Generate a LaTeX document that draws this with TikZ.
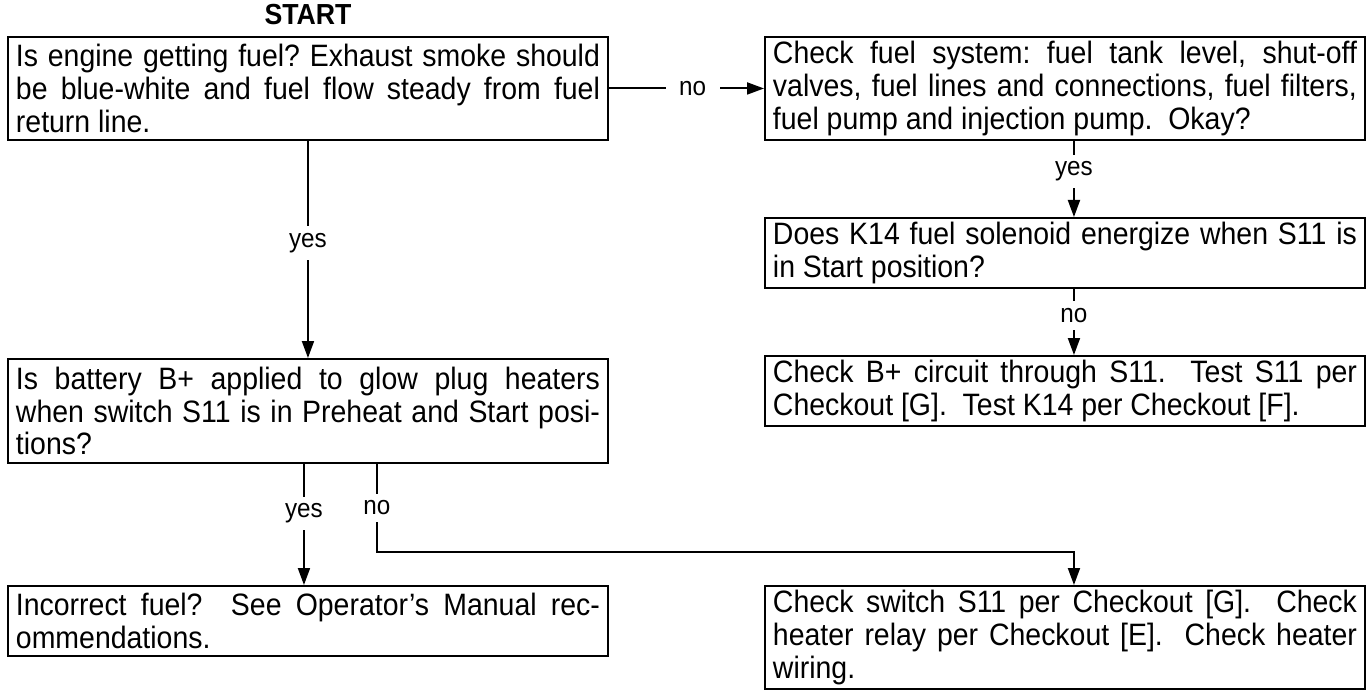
\documentclass[tikz,border=0pt]{standalone}
\usepackage{fontspec}
\setmainfont{Liberation Sans}[FakeStretch=0.92]
\usetikzlibrary{arrows.meta,positioning}
\frenchspacing

\begin{document}
\begin{tikzpicture}[
  box/.style={draw, line width=1.1pt, anchor=north west, text width=11.68cm, inner xsep=0.16cm, inner ysep=0.08cm,
    align=justify, font=\fontsize{17.6}{18.6}\selectfont},
  flow/.style={-{Triangle[length=3.4mm,width=2.4mm]}, line width=1.1pt},
  lbl/.style={fill=white, inner xsep=0.1cm, inner ysep=0.14cm, font=\fontsize{15}{16}\selectfont}
]
\useasboundingbox (0,0) rectangle (27.44,-13.8);
% left column
\node[box, minimum height=2.06cm] (fuel) at (0.14,-0.72) {Is engine getting fuel? Exhaust smoke should\linebreak be blue-white and fuel flow steady from fuel\linebreak return line.};
\node[above=0.22cm of fuel, inner sep=0, font=\fontsize{16.5}{18}\selectfont\bfseries] (start) {START};
\node[box, minimum height=2.08cm] (batt) at (0.14,-7.16) {Is battery B+ applied to glow plug heaters\linebreak when switch S11 is in Preheat and Start posi-\linebreak tions?};
\node[box, minimum height=1.40cm] (inc) at (0.14,-11.70) {Incorrect fuel?\ \ See Operator's Manual rec-\linebreak ommendations.};
% right column
\node[box, minimum height=2.06cm] (sys) at (15.28,-0.72) {Check fuel system: fuel tank level, shut-off\linebreak valves, fuel lines and connections, fuel filters,\linebreak fuel pump and injection pump.\ \ Okay?};
\node[box, minimum height=1.40cm] (sol) at (15.28,-4.34) {Does K14 fuel solenoid energize when S11 is\linebreak in Start position?};
\node[box, minimum height=1.40cm] (circ) at (15.28,-7.10) {Check B+ circuit through S11.\ \ Test S11 per\linebreak Checkout [G].\ \ Test K14 per Checkout [F].};
\node[box, minimum height=2.06cm] (sw) at (15.28,-11.70) {Check switch S11 per Checkout [G].\ \ Check\linebreak heater relay per Checkout [E].\ \ Check heater\linebreak wiring.};
% connectors
\draw[flow] (fuel) -- node[lbl, pos=0.54, inner xsep=0.27cm]{no} (sys);
\draw[flow] (fuel.south) -- node[lbl, pos=0.47]{yes} (batt.north);
\draw[flow] ([xshift=0.18cm]sys.south) -- node[lbl, pos=0.4]{yes} ([xshift=0.18cm]sol.north);
\draw[flow] ([xshift=0.18cm]sol.south) -- node[lbl, pos=0.4]{no} ([xshift=0.18cm]circ.north);
\draw[flow] ([xshift=-0.08cm]batt.south) -- node[lbl, pos=0.41]{yes} ([xshift=-0.08cm]inc.north);
\draw[flow] ([xshift=1.38cm]batt.south) -- node[lbl]{no} ++(0,-1.76) -| ([xshift=0.18cm]sw.north);
\end{tikzpicture}
\end{document}
